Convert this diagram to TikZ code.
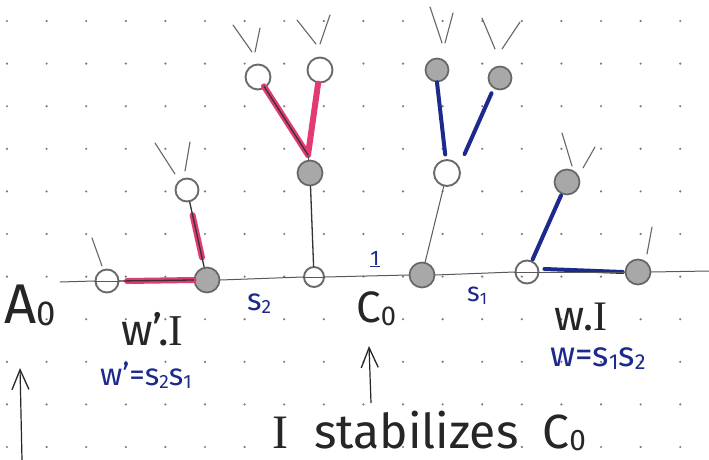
\documentclass[tikz,border=0pt]{standalone}
\usepackage{fontspec}
\setmainfont{Fira Sans}
\newfontfamily\barI{Liberation Serif}
\usetikzlibrary{calc,arrows.meta}
\definecolor{ink}{HTML}{262626}
\definecolor{pencil}{HTML}{6A6A6A}
\definecolor{navy}{HTML}{1B2A8C}
\definecolor{rose}{HTML}{E23A74}
\definecolor{dotc}{HTML}{7A7A7A}
\newcommand{\fs}[1]{\fontsize{#1}{#1}\selectfont}
\newcommand{\lowidx}[2]{\raisebox{-#1}{\scalebox{0.62}{#2}}}
\newcommand{\Ibar}{{\barI I}}

\begin{document}
\begin{tikzpicture}[x=1pt,y=-1pt,
  opn/.style={circle,draw=pencil,line width=1.9pt,inner sep=0pt,minimum size=#1},
  opn/.default=23pt,
  full/.style={circle,fill=black!34,draw=black!60,line width=1.7pt,inner sep=0pt,minimum size=#1},
  full/.default=25pt,
  pen/.style={draw=black!65,line width=1pt,line cap=round},
  core/.style={draw=black!80,line width=1.3pt,line cap=round},
  twig/.style={draw=black!60,line width=1.1pt,line cap=round},
  rib/.style={draw=rose,line width=6pt,line cap=round},
  blu/.style={draw=navy,line width=4pt,line cap=round},
  lab/.style={text=ink,inner sep=0pt,anchor=base west},
  blab/.style={text=navy,inner sep=0pt,anchor=base west},
  upar/.style={draw=ink,line width=1.2pt,-{Straight Barb[length=20pt,width=17pt,line width=1.3pt]}}
]
\useasboundingbox (0,0) rectangle (709,460);
\fill[white] (0,0) rectangle (709,460);

% dotted paper
\foreach \i in {0,...,17}
  \foreach \j in {0,...,10}
    \fill[dotc] ({7+39.6*\i},{21+42.6*\j}) circle (1.2);

% base line
\coordinate (L0) at (60,282);
\coordinate (L1) at (709,271);

% vertices on the base line
\node[opn] (a) at (107,281) {};
\node[full] (b) at (207,280) {};
\node[opn=20pt] (c) at (314,277) {};
\node[full] (d) at (422,275) {};
\node[opn] (e) at (527,272) {};
\node[full] (f) at (638,272) {};

% upper vertices
\node[opn=23pt,fill=white] (g) at (187,190) {};
\node[full] (h) at (310,173) {};
\node[opn=25pt,fill=white] (i) at (258,77) {};
\node[opn=25pt,fill=white] (j) at (320,70) {};
\node[opn=26pt,fill=white] (k) at (447,173) {};
\node[full=23pt] (l) at (437,70) {};
\node[full=23pt] (m) at (500,78) {};
\node[full] (n) at (567,182) {};
\coordinate (vh) at (308,155);

% coloured galleries
\draw[rib] (127,281) -- (b.west);
\draw[rib] ($(b)!0.25!(g)$) -- ($(b)!0.72!(g)$);
\draw[rib] (vh) -- ($(vh)!0.88!(i)$);
\draw[rib] (vh) -- ($(vh)!0.84!(j)$);
\draw[blu] ($(k)!0.18!(l)$) -- (l.south);
\draw[blu] ($(k)!0.2!(m) + (7,0)$) -- ($(k)!0.84!(m)$);
\draw[blu] ($(e)!0.14!(n)$) -- ($(e)!0.85!(n)$);
\draw[blu] ($(e.east) + (5,-3)$) -- ([xshift=-2pt]f.west);

% pencil edges
\draw[pen] (L0) -- (a.west);
\draw[core] (a.east) -- (b.west);
\draw[pen] (b.east) -- (c.west);
\draw[pen] (c.west) -- (c.east);
\draw[pen] (c.east) -- (d.west);
\draw[pen] (d.east) -- (e.west);
\draw[pen] (e.west) -- (e.east);
\draw[pen] (e.east) -- (f.west);
\draw[pen] (f.east) -- (L1);
\draw[pen] (a.west) -- (a.east);
\draw[core] (b) -- (g);
\draw[core] (c) -- (h);
\draw[pen] (h) -- (vh);
\draw[core] (vh) -- ($(vh)!0.88!(i)$);
\draw[pen] (d) -- (k);

% short pencil twigs
\coordinate (ta1) at (92,238);  \coordinate (ta2) at (102,266);
\coordinate (tg1) at (155,143); \coordinate (tg2) at (175,174);
\coordinate (tg3) at (190,142); \coordinate (tg4) at (185,171);
\coordinate (ti1) at (233,25);  \coordinate (ti2) at (252,52);
\coordinate (ti3) at (260,28);  \coordinate (ti4) at (255,52);
\coordinate (tj1) at (297,20);  \coordinate (tj2) at (316,44);
\coordinate (tj3) at (330,15);  \coordinate (tj4) at (320,44);
\coordinate (tl1) at (430,7);   \coordinate (tl2) at (442,43);
\coordinate (tl3) at (453,13);  \coordinate (tl4) at (445,43);
\coordinate (tm1) at (482,18);  \coordinate (tm2) at (495,49);
\coordinate (tm3) at (520,22);  \coordinate (tm4) at (502,49);
\coordinate (tn1) at (562,133); \coordinate (tn2) at (572,166);
\coordinate (tn3) at (595,147); \coordinate (tn4) at (583,168);
\coordinate (tf1) at (652,227); \coordinate (tf2) at (647,254);
\foreach \p/\q in {ta1/ta2,tg1/tg2,tg3/tg4,ti1/ti2,ti3/ti4,tj1/tj2,tj3/tj4,
                   tl1/tl2,tl3/tl4,tm1/tm2,tm3/tm4,tn1/tn2,tn3/tn4,tf1/tf2}
  \draw[twig] (\p) -- (\q);

% labels
\node[lab,font=\fs{56}] (A) at (4,323) {A\lowidx{2pt}{0}};
\node[lab,font=\fs{44}] (wI1) at (121,345) {w'.\Ibar};
\node[blab,font=\fs{31}] (w1) at (100,385) {w'=s\lowidx{3pt}{2}s\lowidx{3pt}{1}};
\node[blab,font=\fs{31}] (s2) at (247,310) {s\lowidx{3pt}{2}};
\node[text=navy,inner sep=0pt,font=\fs{21}] (one) at (375,259) {\underline{1}};
\node[lab,font=\fs{44}] (C) at (356,322) {C\lowidx{3pt}{0}};
\node[blab,font=\fs{27}] (s1) at (467,301) {s\lowidx{3pt}{1}};
\node[lab,font=\fs{42}] (wI) at (554,330) {w.\Ibar};
\node[blab,font=\fs{35}] (w) at (550,366) {w=s\lowidx{3pt}{1}s\lowidx{3pt}{2}};
\node[lab,font=\fs{48}] (stab) at (272,448) {\Ibar\hspace{26pt}stabilizes\hspace{24pt}C\lowidx{2pt}{0}};

% arrows
\coordinate (arA) at (22,460);
\coordinate (arC) at (371,403);
\draw[upar] (arA) -- (20,368);
\draw[upar] (arC) -- (369,346);
\end{tikzpicture}
\end{document}
